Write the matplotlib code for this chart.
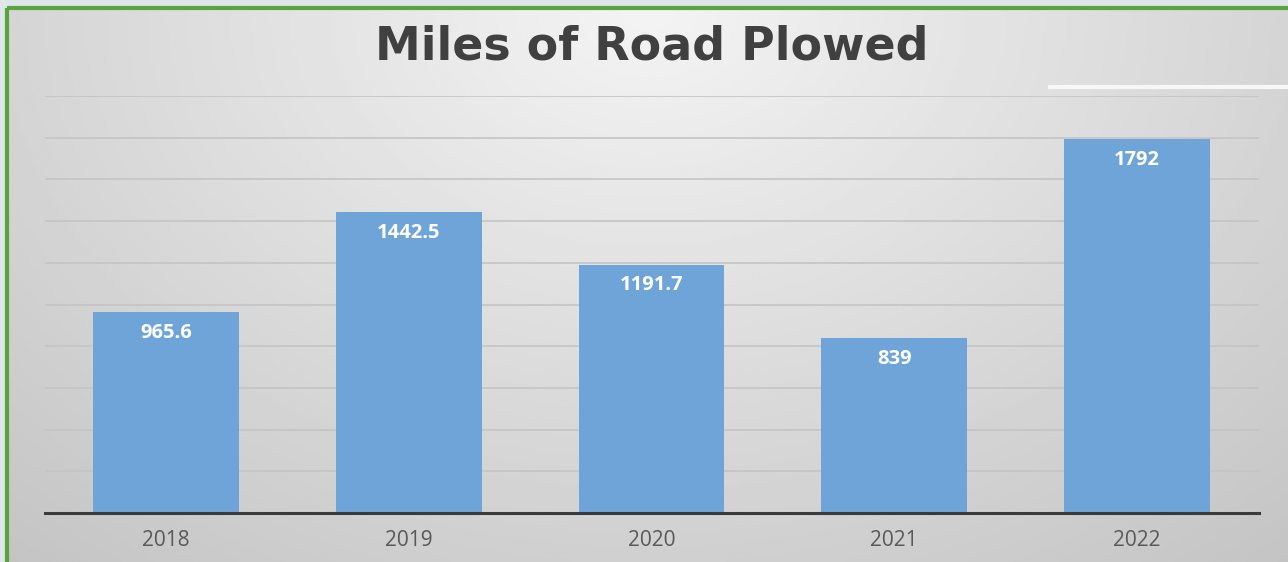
import matplotlib.pyplot as plt
import numpy as np
from matplotlib.patches import Rectangle

# Chart data
years = ['2018', '2019', '2020', '2021', '2022']
miles = [965.6, 1442.5, 1191.7, 839, 1792]
labels = ['965.6', '1442.5', '1191.7', '839', '1792']

W, H = 1288, 562
fig = plt.figure(figsize=(W / 100, H / 100), dpi=100)
fig.patch.set_facecolor('#dfe6ea')

# Gray gradient panel inside green frame
bg = fig.add_axes([0, 0, 1, 1], zorder=0)
bg.set_xlim(0, W)
bg.set_ylim(H, 0)
bg.axis('off')
xx, yy = np.meshgrid(np.linspace(0, 1, 400), np.linspace(0, 1, 200))
dist = np.sqrt(((xx - 0.5) / 0.7) ** 2 + (yy / 1.2) ** 2)
shade = 0.955 - 0.17 * np.clip(dist, 0, 1.1)
bg.imshow(shade, cmap='gray', vmin=0, vmax=1, extent=[8, W, H, 9], aspect='auto',
          interpolation='bilinear')
bg.add_patch(Rectangle((7, 8), W + 10, H + 10, fill=False, edgecolor='#5ba43b', linewidth=3))
bg.plot([1050, W], [87, 87], color='#f7f7f7', linewidth=3)

ax = fig.add_axes([44.5 / W, (H - 513) / H, 1214 / W, (513 - 96) / H], zorder=1)
ax.patch.set_alpha(0)
x = np.arange(len(years))
bars = ax.bar(x, miles, width=0.6, color='#6ea4d8', zorder=2)

ax.set_xlim(-0.5, len(years) - 0.5)
ax.set_ylim(0, 2000)
ax.set_yticks(np.arange(0, 2001, 200))
ax.yaxis.grid(True, color='#c4c4c4', linewidth=1.2, zorder=0)
ax.tick_params(axis='y', left=False, labelleft=False)
ax.tick_params(axis='x', bottom=False, labelsize=15, labelcolor='#595959', pad=9)
ax.set_xticks(x)
ax.set_xticklabels(years, fontfamily='Open Sans')
for side in ['top', 'right', 'left']:
    ax.spines[side].set_visible(False)
ax.spines['bottom'].set_color('#3a3a3a')
ax.spines['bottom'].set_linewidth(2.2)
ax.spines['bottom'].set_zorder(3)

for xi, v, lab in zip(x, miles, labels):
    ax.annotate(lab, (xi, v), xytext=(0, -15), textcoords='offset points',
                ha='center', va='center', color='white', fontsize=14.5,
                fontweight='bold', fontfamily='Open Sans', zorder=4)

fig.text(652 / W, 1 - 47 / H, 'Miles of Road Plowed', ha='center', va='center',
         fontsize=33, fontweight='bold', color='#404040', fontfamily='DejaVu Sans')

fig.savefig('out.png', dpi=100)
